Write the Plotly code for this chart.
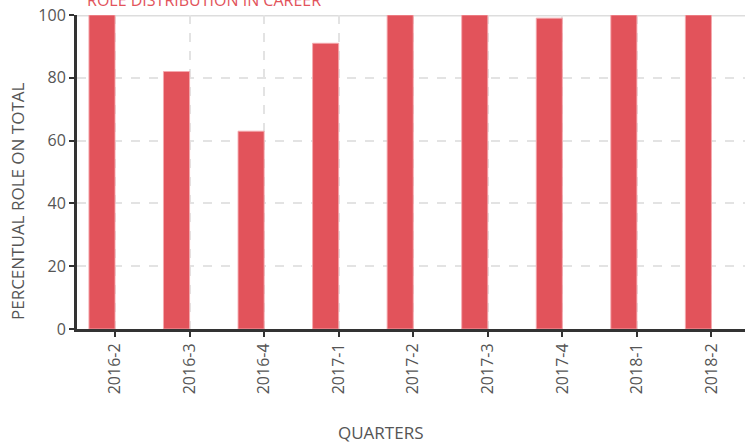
import plotly.graph_objects as go

quarters = ["2016-2", "2016-3", "2016-4", "2017-1", "2017-2", "2017-3", "2017-4", "2018-1", "2018-2"]
role_pct = [100, 82, 63, 91, 100, 100, 99, 100, 100]

bar_color = "#e2535b"
text_color = "#555555"
axis_color = "#333333"
grid_color = "#e3e3e3"

W, H = 745, 446
L, R, T, B = 77, 0, 15, 117

fig = go.Figure()

fig.add_trace(go.Bar(
    x=quarters, y=role_pct,
    width=0.35, offset=-0.35,
    marker=dict(color=bar_color, line=dict(color="rgba(245,170,175,0.9)", width=1)),
    showlegend=False,
))

# solid line across the top of the plot at 100
fig.add_shape(type="line", xref="paper", x0=0, x1=1, yref="y", y0=100, y1=100,
              line=dict(color="#dddddd", width=3), layer="below")

# chart title, partly cut by the top edge like in the source page
fig.add_annotation(text="ROLE DISTRIBUTION IN CAREER", xref="paper", yref="paper",
                   x=0.012, y=1, xanchor="left", yanchor="middle", yshift=15,
                   showarrow=False, font=dict(size=16, color=bar_color))

# axis titles placed by pixel (page coords -> paper coords)
pw, ph = W - L - R, H - T - B
fig.add_annotation(text="QUARTERS", xref="paper", yref="paper",
                   x=(380 - L) / pw, y=(H - B - 432) / ph, xanchor="center", yanchor="middle",
                   showarrow=False, font=dict(size=17, color=text_color))
fig.add_annotation(text="PERCENTUAL ROLE ON TOTAL", xref="paper", yref="paper",
                   x=(17 - L) / pw, y=(H - B - 201) / ph, xanchor="center", yanchor="middle",
                   textangle=-90, showarrow=False, font=dict(size=17, color=text_color))

fig.update_layout(
    width=W, height=H,
    margin=dict(l=L, r=R, t=T, b=B),
    paper_bgcolor="white", plot_bgcolor="white",
    font=dict(family="Open Sans", color=text_color),
)

fig.update_xaxes(
    type="category", range=[-0.51, 8.45], automargin=False,
    showline=True, linecolor=axis_color, linewidth=3,
    ticks="outside", ticklen=5, tickcolor=axis_color, tickwidth=2,
    tickangle=-90, tickfont=dict(size=16, color=text_color),
    showgrid=True, gridcolor=grid_color, gridwidth=2, griddash="dash",
)

fig.update_yaxes(
    range=[0, 100], tickvals=[0, 20, 40, 60, 80, 100], automargin=False,
    ticklabeloverflow="allow",
    showline=True, linecolor=axis_color, linewidth=3,
    ticks="outside", ticklen=5, tickcolor=axis_color, tickwidth=2,
    tickfont=dict(size=16, color=text_color),
    showgrid=True, gridcolor=grid_color, gridwidth=2, griddash="dash",
    zeroline=False,
)

# drop the default page margin so the chart sits at the window corner
fig.write_html("out.html", config={"displayModeBar": False},
               post_script="document.body.style.margin='0';")
